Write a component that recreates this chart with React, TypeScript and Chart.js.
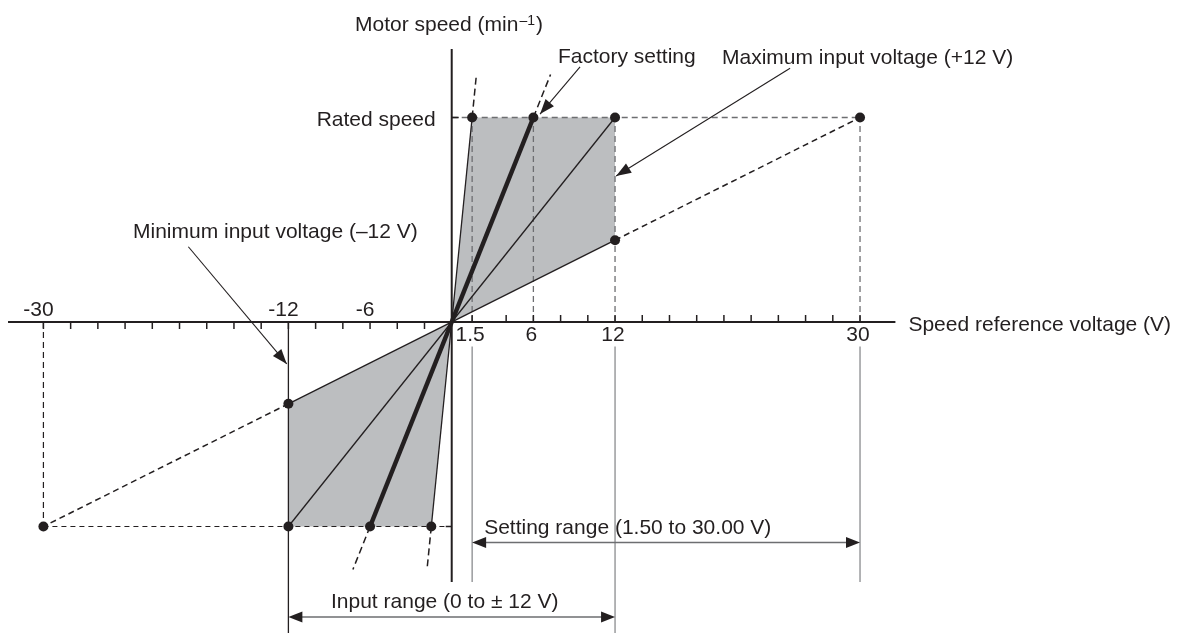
import React, { useEffect, useRef } from "react";
import { Chart, registerables } from "chart.js";

Chart.register(...registerables);

// ---------------- data ----------------
const ratedSpeed = 1; // normalised rated speed
const gainVoltages = [1.5, 6, 12, 30]; // reference voltage that gives rated speed
const factorySetting = 6;
const inputLimit = 12;
const extensionSpeed = 1.21;
const positiveTickValues = [1.5, 4, 6, 8, 10, 12, 14, 16, 18, 20, 22, 24, 26, 28, 30];
const negativeTickValues = [-2, -4, -6, -8, -10, -12, -14, -16, -18, -20, -22, -24, -26, -28, -30];
const positiveLabelValues = [1.5, 6, 12, 30];
const positiveLabelTexts = ["1.5", "6", "12", "30"];
const negativeLabelValues = [-6, -12, -30];
const negativeLabelTexts = ["-6", "-12", "-30"];
const settingRange = [1.5, 30];
const inputRange = [-12, 12];

// ---------------- layout / style ----------------
const W = 1177;
const H = 633;
const X_MIN = -33.19;
const X_MAX = 53.29;
const Y_MIN = -1.5208;
const Y_MAX = 1.5746;
const DARK = "#231f20";
const GRAY = "#6d6e71";
const FILL = "#bcbec0";
const FONT = '21px "Liberation Sans", Arial, Helvetica, sans-serif';

type P = { x: number; y: number };
const pt = (x: number, y: number): P => ({ x, y });

function seg(data: P[], color: string, width: number, dash: number[], order: number) {
  return {
    type: "scatter" as const,
    data,
    showLine: true,
    borderColor: color,
    borderWidth: width,
    borderDash: dash,
    borderCapStyle: "butt" as const,
    pointRadius: 0,
    pointHoverRadius: 0,
    fill: false,
    order,
  };
}

function buildDatasets() {
  const ds: any[] = [];
  const minV = gainVoltages[0];
  const maxV = gainVoltages[gainVoltages.length - 1];
  const lowSpeed = (inputLimit / maxV) * ratedSpeed;

  // shaded adjustable areas
  ds.push({
    type: "scatter",
    data: [pt(0, 0), pt(minV, ratedSpeed), pt(inputLimit, ratedSpeed), pt(inputLimit, lowSpeed)],
    showLine: true,
    fill: "shape",
    backgroundColor: FILL,
    borderWidth: 0,
    borderColor: "rgba(0,0,0,0)",
    pointRadius: 0,
    order: 6,
  });
  ds.push({
    type: "scatter",
    data: [pt(-inputLimit, -lowSpeed), pt(-inputLimit, -ratedSpeed), pt(-minV, -ratedSpeed), pt(0, 0)],
    showLine: true,
    fill: "shape",
    backgroundColor: FILL,
    borderWidth: 0,
    borderColor: "rgba(0,0,0,0)",
    pointRadius: 0,
    order: 6,
  });

  // dashed reference lines
  ds.push(seg([pt(0, ratedSpeed), pt(maxV, ratedSpeed)], GRAY, 1.3, [6, 4], 5));
  ds.push(seg([pt(-maxV, -ratedSpeed), pt(0, -ratedSpeed)], DARK, 1.2, [5, 4], 5));
  gainVoltages.forEach((v) => ds.push(seg([pt(v, 0), pt(v, ratedSpeed)], GRAY, 1.3, [6, 4], 5)));
  ds.push(seg([pt(-maxV, 0), pt(-maxV, -ratedSpeed)], DARK, 1.2, [6, 4], 5));

  // black dashed extensions
  gainVoltages.forEach((v) => {
    if (v < inputLimit) {
      ds.push(seg([pt(v, ratedSpeed), pt(v * extensionSpeed, extensionSpeed)], DARK, 1.5, [7, 4], 4));
      ds.push(seg([pt(-v, -ratedSpeed), pt(-v * extensionSpeed, -extensionSpeed)], DARK, 1.5, [7, 4], 4));
    } else if (v > inputLimit) {
      ds.push(seg([pt(inputLimit, inputLimit / v), pt(v, ratedSpeed)], DARK, 1.5, [6, 4], 4));
      ds.push(seg([pt(-inputLimit, -inputLimit / v), pt(-v, -ratedSpeed)], DARK, 1.5, [6, 4], 4));
    }
  });

  // solid characteristic lines
  gainVoltages.forEach((v) => {
    const end = Math.min(v, inputLimit);
    const w = v === factorySetting ? 4.5 : 1.3;
    ds.push(seg([pt(-end, (-end / v) * ratedSpeed), pt(end, (end / v) * ratedSpeed)], DARK, w, [], 2));
  });

  // points
  const pts: P[] = [];
  gainVoltages.forEach((v) => {
    pts.push(pt(v, ratedSpeed));
    pts.push(pt(-v, -ratedSpeed));
  });
  pts.push(pt(inputLimit, lowSpeed));
  pts.push(pt(-inputLimit, -lowSpeed));
  ds.push({
    type: "scatter",
    data: pts,
    showLine: false,
    pointRadius: 5,
    pointHoverRadius: 5,
    pointBackgroundColor: DARK,
    pointBorderWidth: 0,
    order: 0,
  });
  return ds;
}

function arrowHead(ctx: CanvasRenderingContext2D, fx: number, fy: number, tx: number, ty: number, len = 14, half = 5.5) {
  const a = Math.atan2(ty - fy, tx - fx);
  const bx = tx - len * Math.cos(a);
  const by = ty - len * Math.sin(a);
  ctx.beginPath();
  ctx.moveTo(tx, ty);
  ctx.lineTo(bx + half * Math.sin(a), by - half * Math.cos(a));
  ctx.lineTo(bx - half * Math.sin(a), by + half * Math.cos(a));
  ctx.closePath();
  ctx.fill();
}

const overlayPlugin = {
  id: "overlay",
  afterDatasetsDraw(chart: any) {
    const ctx: CanvasRenderingContext2D = chart.ctx;
    const xs = chart.scales.x;
    const ys = chart.scales.y;
    const X = (v: number) => xs.getPixelForValue(v);
    const Y = (v: number) => ys.getPixelForValue(v);
    const line = (x1: number, y1: number, x2: number, y2: number, color: string, w: number) => {
      ctx.beginPath();
      ctx.strokeStyle = color;
      ctx.lineWidth = w;
      ctx.moveTo(x1, y1);
      ctx.lineTo(x2, y2);
      ctx.stroke();
    };
    ctx.save();
    ctx.setLineDash([]);
    ctx.lineCap = "butt";

    // guide verticals below the axis
    line(X(settingRange[0]), Y(-0.12), X(settingRange[0]), Y(-1.271), "#808285", 1.2);
    line(X(settingRange[1]), Y(-0.12), X(settingRange[1]), Y(-1.271), "#808285", 1.2);
    line(X(inputRange[1]), Y(-0.12), X(inputRange[1]), H, "#808285", 1.2);
    line(X(inputRange[0]), Y(0), X(inputRange[0]), H, DARK, 1.3);

    // axes
    line(X(-32.6), Y(0), X(32.6), Y(0), DARK, 2);
    line(X(0), Y(1.335), X(0), Y(-1.271), DARK, 2);

    // x ticks
    positiveTickValues.forEach((v) => line(X(v), Y(0), X(v), Y(0) - 7, DARK, 1.5));
    negativeTickValues.forEach((v) => line(X(v), Y(0), X(v), Y(0) + 7, DARK, 1.5));
    // y ticks
    line(X(0), Y(ratedSpeed), X(0) + 7, Y(ratedSpeed), DARK, 1.5);
    line(X(0), Y(-ratedSpeed), X(0) - 6, Y(-ratedSpeed), DARK, 1.5);

    // tick labels
    ctx.fillStyle = DARK;
    ctx.font = FONT;
    ctx.textBaseline = "alphabetic";
    ctx.textAlign = "center";
    positiveLabelValues.forEach((v, i) => ctx.fillText(positiveLabelTexts[i], X(v) - 2, Y(0) + 19));
    negativeLabelValues.forEach((v, i) => ctx.fillText(negativeLabelTexts[i], X(v) - 5, Y(0) - 6));

    // axis titles
    ctx.textAlign = "left";
    const t1 = "Motor speed (min";
    ctx.fillText(t1, 355, 31);
    const w1 = ctx.measureText(t1).width;
    ctx.font = '14px "Liberation Sans", Arial, sans-serif';
    const sup = "\u20131";
    ctx.fillText(sup, 355 + w1 + 1, 25);
    const w2 = ctx.measureText(sup).width;
    ctx.font = FONT;
    ctx.fillText(")", 355 + w1 + w2 + 2, 31);

    ctx.fillText("Speed reference voltage (V)", X(32.6) + 13, Y(0) + 9);
    ctx.textAlign = "right";
    ctx.fillText("Rated speed", X(0) - 16, Y(ratedSpeed) + 8);
    ctx.textAlign = "left";
    ctx.fillText("Factory setting", 558, 63);
    ctx.fillText("Maximum input voltage (+12 V)", 722, 64);
    ctx.fillText("Minimum input voltage (\u201312 V)", 133, 238);

    // annotation arrows (data coordinates)
    const annot = [
      { from: [9.43, 1.248], to: [6.49, 1.017] },
      { from: [24.86, 1.241], to: [12.08, 0.714] },
      { from: [-19.35, 0.368], to: [-12.12, -0.205] },
    ];
    ctx.fillStyle = DARK;
    annot.forEach((a) => {
      const fx = X(a.from[0]), fy = Y(a.from[1]), tx = X(a.to[0]), ty = Y(a.to[1]);
      line(fx, fy, tx, ty, DARK, 1.1);
      arrowHead(ctx, fx, fy, tx, ty, 15, 5.5);
    });

    // range arrows
    const sy = Y(-1.078);
    line(X(settingRange[0]) + 4, sy, X(settingRange[1]) - 4, sy, GRAY, 1.5);
    arrowHead(ctx, X(settingRange[1]), sy, X(settingRange[0]), sy);
    arrowHead(ctx, X(settingRange[0]), sy, X(settingRange[1]), sy);
    const iy = Y(-1.443);
    line(X(inputRange[0]) + 4, iy, X(inputRange[1]) - 4, iy, GRAY, 1.5);
    arrowHead(ctx, X(inputRange[1]), iy, X(inputRange[0]), iy);
    arrowHead(ctx, X(inputRange[0]), iy, X(inputRange[1]), iy);

    ctx.fillStyle = DARK;
    ctx.font = FONT;
    ctx.textAlign = "left";
    ctx.fillText("Setting range (1.50 to 30.00 V)", X(settingRange[0]) + 12, 534);
    ctx.fillText("Input range (0 to \u00b1 12 V)", 331, 608);

    ctx.restore();
  },
};

export default function App() {
  const ref = useRef<HTMLCanvasElement | null>(null);
  useEffect(() => {
    if (!ref.current) return;
    const chart = new Chart(ref.current, {
      type: "scatter",
      data: { datasets: buildDatasets() },
      options: {
        animation: false,
        responsive: false,
        maintainAspectRatio: false,
        devicePixelRatio: 1,
        layout: { padding: 0, autoPadding: false },
        events: [],
        plugins: { legend: { display: false }, tooltip: { enabled: false } },
        scales: {
          x: { type: "linear", display: false, min: X_MIN, max: X_MAX },
          y: { type: "linear", display: false, min: Y_MIN, max: Y_MAX },
        },
      },
      plugins: [overlayPlugin],
    } as any);
    return () => chart.destroy();
  }, []);
  return (
    <div style={{ position: "fixed", left: 0, top: 0, width: W, height: H, background: "#fff" }}>
      <canvas ref={ref} width={W} height={H} style={{ display: "block" }} />
    </div>
  );
}
